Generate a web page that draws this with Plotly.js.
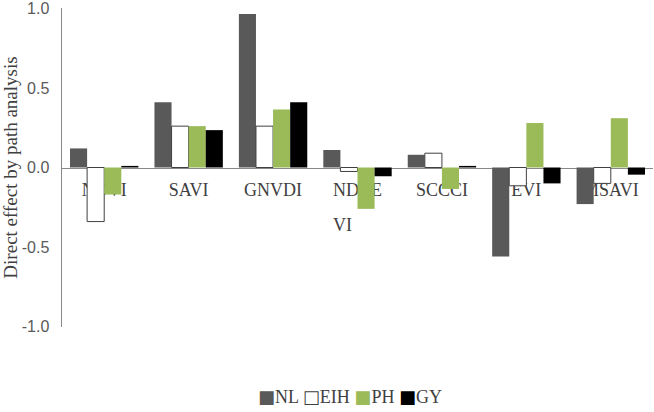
<!DOCTYPE html>
<html>
<head>
<meta charset="utf-8">
<script src="https://cdn.plot.ly/plotly-3.0.1.min.js"></script>
<style>html,body{margin:0;padding:0;background:#fff;}#chart{width:654px;height:412px;}</style>
</head>
<body>
<div id="chart"></div>
<script>
// Vegetation indices (categories)
var categories = ["NDVI", "SAVI", "GNVDI", "NDRE", "SCCCI", "EVI", "MSAVI"];
// Direct effect by path analysis, per trait
var nl  = [0.12, 0.41, 0.965, 0.11, 0.08, -0.56, -0.23];
var eih = [-0.34, 0.26, 0.26, -0.025, 0.09, -0.115, -0.10];
var ph  = [-0.17, 0.26, 0.365, -0.26, -0.135, 0.28, 0.31];
var gy  = [0.01, 0.235, 0.41, -0.055, 0.01, -0.10, -0.045];
var seriesNames = ["NL", "EIH", "PH", "GY"];
var yTickVals = [-1.0, -0.5, 0.0, 0.5, 1.0];
var yTickText = ["-1.0", "-0.5", "0.0", "0.5", "1.0"];

var serif = "Liberation Serif, Times New Roman, serif";
var sans = "Liberation Sans, Arial, sans-serif";
var fills = ["#595959", "#ffffff", "#9bbb59", "#000000"];
var lines = ["#595959", "#404040", "#9bbb59", "#000000"];
var seriesValues = [nl, eih, ph, gy];

var traces = seriesNames.map(function (nm, i) {
  return {type: "bar", name: nm, x: categories, y: seriesValues[i],
          marker: {color: fills[i], line: {color: lines[i], width: i === 1 ? 1 : 0}}};
});

// compact legend text built from the series names (square glyph + name)
var legendGlyphs = ["\u25A0", "\u25A1", "\u25A0", "\u25A0"];
var legendColors = ["#595959", "#404040", "#9bbb59", "#000000"];
var legendText = seriesNames.map(function (nm, i) {
  return "<span style='color:" + legendColors[i] + ";font-family:DejaVu Sans'>" +
         legendGlyphs[i] + "</span>" + nm;
}).join(" ");

var layout = {
  width: 654, height: 412,
  margin: {l: 62, r: 1, t: 8, b: 85},
  paper_bgcolor: "#ffffff", plot_bgcolor: "#ffffff",
  barmode: "group", bargap: 0.19, bargroupgap: 0,
  showlegend: false,
  xaxis: {
    type: "category", anchor: "free", position: 0.5, layer: "below traces",
    showline: true, linecolor: "#898989", linewidth: 1.5,
    ticks: "", showgrid: false, zeroline: false, ticklabelstandoff: 5,
    tickfont: {family: serif, size: 18, color: "#404040"}
  },
  yaxis: {
    range: [-1.003, 1.003], tickvals: yTickVals, ticktext: yTickText,
    ticklabeloverflow: "allow",
    showline: true, linecolor: "#898989", linewidth: 1.5,
    ticks: "", showgrid: false, zeroline: false, ticklabelstandoff: 8,
    tickfont: {family: sans, size: 16, color: "#595959"},
    title: {text: "Direct effect by path analysis", standoff: 2,
            font: {family: serif, size: 19, color: "#404040"}}
  },
  annotations: [
    {text: "VI", xref: "paper", yref: "paper", x: 0.475, y: 0.32,
     xanchor: "center", yanchor: "middle", showarrow: false,
     font: {family: serif, size: 18, color: "#404040"}},
    {text: legendText, xref: "paper", yref: "paper", x: 0.487, y: -0.219,
     xanchor: "center", yanchor: "middle", showarrow: false,
     font: {family: serif, size: 18, color: "#404040"}}
  ]
};

Plotly.newPlot("chart", traces, layout, {displayModeBar: false, staticPlot: true});
</script>
</body>
</html>
